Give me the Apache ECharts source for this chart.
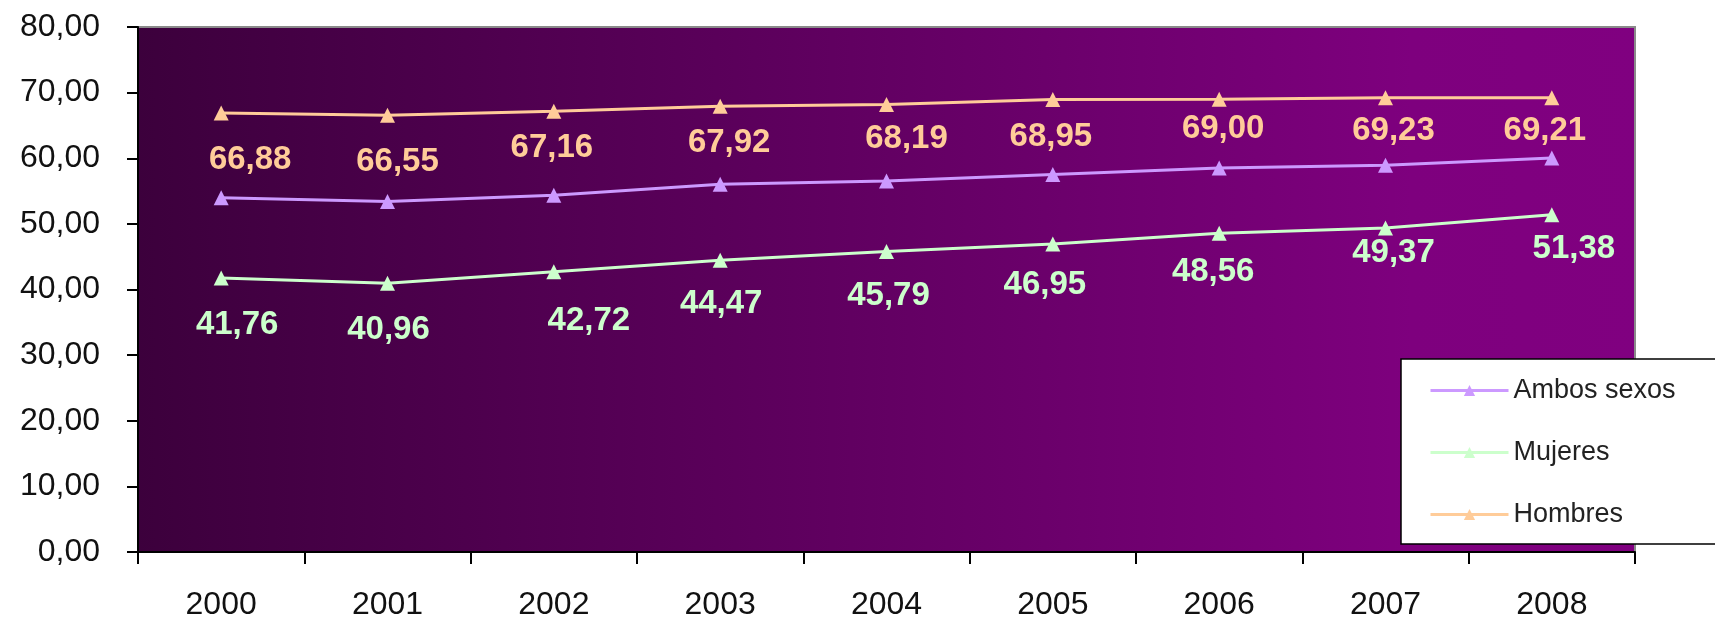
<!DOCTYPE html>
<html>
<head>
<meta charset="utf-8">
<script src="https://cdn.jsdelivr.net/npm/echarts@6/dist/echarts.min.js"></script>
<style>
html,body{margin:0;padding:0;background:#ffffff;}
#chart{width:1715px;height:623px;}
</style>
</head>
<body>
<div id="chart"></div>
<script>
// ---- data ----
const years = ['2000','2001','2002','2003','2004','2005','2006','2007','2008'];
const ambosSexos = [53.99, 53.42, 54.38, 56.02, 56.53, 57.54, 58.52, 58.94, 60.04];
const mujeres = [41.76, 40.96, 42.72, 44.47, 45.79, 46.95, 48.56, 49.37, 51.38];
const hombres = [66.88, 66.55, 67.16, 67.92, 68.19, 68.95, 69.00, 69.23, 69.21];
const seriesNames = ['Ambos sexos', 'Mujeres', 'Hombres'];
const yTicks = { min: 0, max: 80, step: 10 };

// ---- label placement (manual nudges as in the original, px relative to each point) ----
const hombresLabelNudge = [[29, 47], [10, 47], [-2, 37], [9, 37], [20, 34], [-2, 37], [4, 30], [8, 33], [-7, 33]];
const mujeresLabelNudge = [[16, 47], [1, 47], [35, 49], [1, 44], [2, 44], [-8, 41], [-6, 39], [8, 25], [22, 34]];

const FONT = "'Liberation Sans', Arial, sans-serif";
const fmt = v => v.toFixed(2).replace('.', ',');

const chart = echarts.init(document.getElementById('chart'));

function lineSeries(name, values, color, nudges) {
  return {
    name: name,
    type: 'line',
    data: values.map((v, i) => nudges
      ? { value: v, label: { offset: nudges[i] } }
      : v),
    symbol: 'triangle',
    symbolSize: 15,
    lineStyle: { color: color, width: 3 },
    itemStyle: { color: color },
    z: 3,
    label: {
      show: !!nudges,
      position: 'inside',
      color: color,
      fontFamily: FONT,
      fontWeight: 'bold',
      fontSize: 33,
      formatter: p => fmt(p.value)
    }
  };
}

chart.setOption({
  animation: false,
  backgroundColor: '#ffffff',
  grid: {
    left: 138, right: 80, top: 27, bottom: 71,
    show: true,
    borderColor: '#8a8a8a',
    borderWidth: 2,
    backgroundColor: {
      type: 'linear', x: 0, y: 0, x2: 1, y2: 0,
      colorStops: [
        { offset: 0, color: '#3c003c' },
        { offset: 0.85, color: '#7e007e' },
        { offset: 1, color: '#800080' }
      ]
    }
  },
  legend: {
    orient: 'vertical',
    left: 1401,
    top: 359,
    data: seriesNames,
    backgroundColor: '#ffffff',
    borderColor: '#000000',
    borderWidth: 1.5,
    borderRadius: 0,
    padding: [18, 70, 16, 28],
    itemGap: 35,
    itemWidth: 78,
    itemHeight: 14,
    lineStyle: { width: 3 },
    textStyle: { fontFamily: FONT, fontSize: 27, color: '#222222' }
  },
  xAxis: {
    type: 'category',
    data: years,
    boundaryGap: true,
    axisLine: { show: true, lineStyle: { color: '#000000', width: 2 } },
    axisTick: { show: true, length: 12, lineStyle: { color: '#000000', width: 2 } },
    axisLabel: { margin: 37, fontFamily: FONT, fontSize: 32, color: '#111111' },
    splitLine: { show: false }
  },
  yAxis: {
    type: 'value',
    min: yTicks.min, max: yTicks.max, interval: yTicks.step,
    axisLine: { show: true, lineStyle: { color: '#000000', width: 2 } },
    axisTick: { show: true, length: 11, lineStyle: { color: '#000000', width: 2 } },
    axisLabel: { margin: 38, fontFamily: FONT, fontSize: 32, color: '#111111', formatter: v => fmt(v) },
    splitLine: { show: false }
  },
  series: [
    lineSeries(seriesNames[0], ambosSexos, '#cc99ff', null),
    lineSeries(seriesNames[1], mujeres, '#ccffcc', mujeresLabelNudge),
    lineSeries(seriesNames[2], hombres, '#ffcc99', hombresLabelNudge)
  ]
});
</script>
</body>
</html>
